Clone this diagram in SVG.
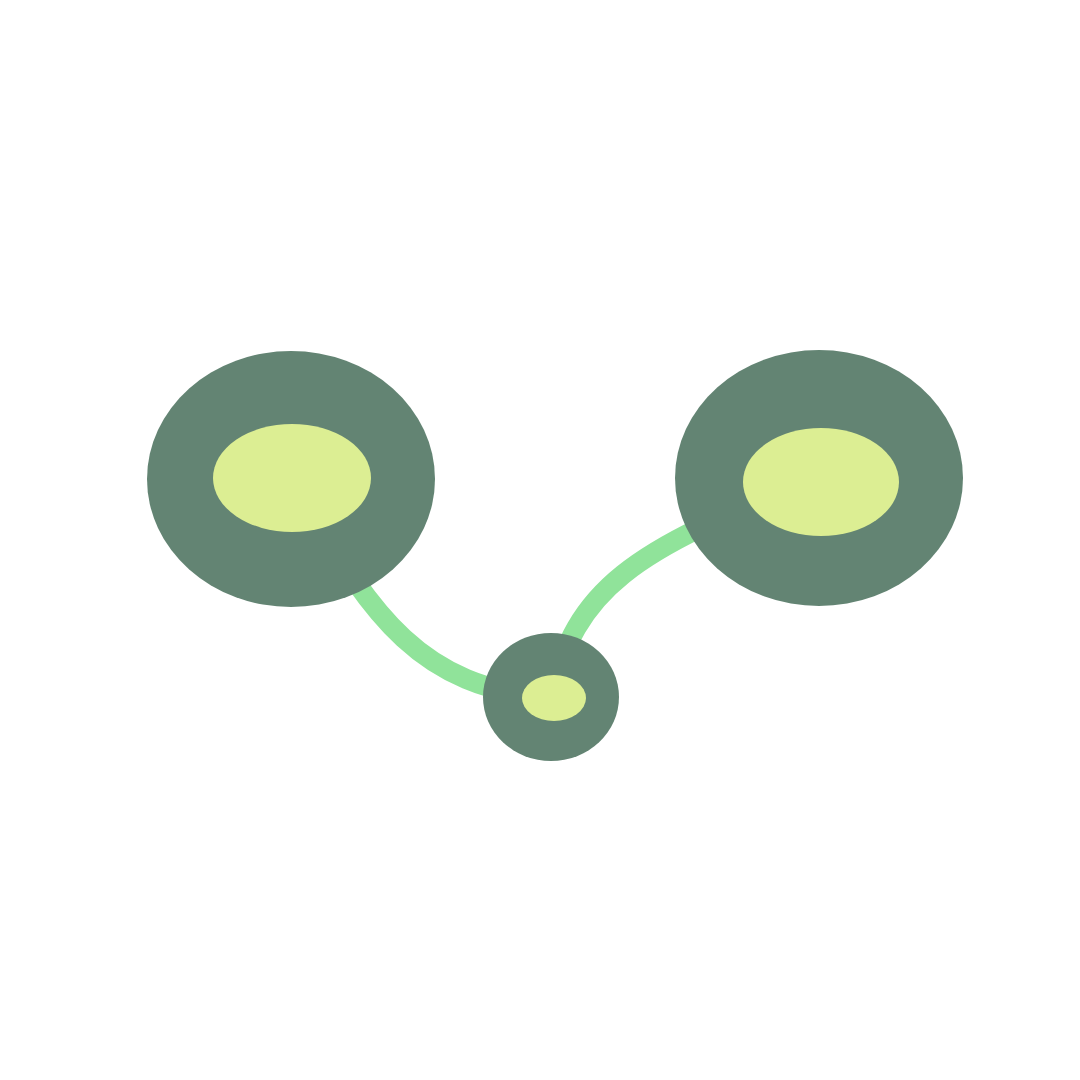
<svg xmlns="http://www.w3.org/2000/svg" width="1080" height="1080" viewBox="0 0 1080 1080">
<style>
.edge{fill:none;stroke:#90e39a;stroke-width:20;}
.outer{fill:#638473;}
.inner{fill:#dcee93;}
</style>
<rect width="1080" height="1080" fill="#ffffff"/>
<g id="connectors">
<path class="edge" d="M291 479 C360 590 405 690 551 697"/>
<path class="edge" d="M551 697 C575 590 630 550 819 478"/>
</g>
<g id="node-left">
<ellipse class="outer" cx="291" cy="479" rx="144" ry="128"/>
<ellipse class="inner" cx="292" cy="478" rx="79" ry="54"/>
</g>
<g id="node-right">
<ellipse class="outer" cx="819" cy="478" rx="144" ry="128"/>
<ellipse class="inner" cx="821" cy="482" rx="78" ry="54"/>
</g>
<g id="node-bottom">
<ellipse class="outer" cx="551" cy="697" rx="68" ry="64"/>
<ellipse class="inner" cx="554" cy="698" rx="32" ry="23"/>
</g>
</svg>
